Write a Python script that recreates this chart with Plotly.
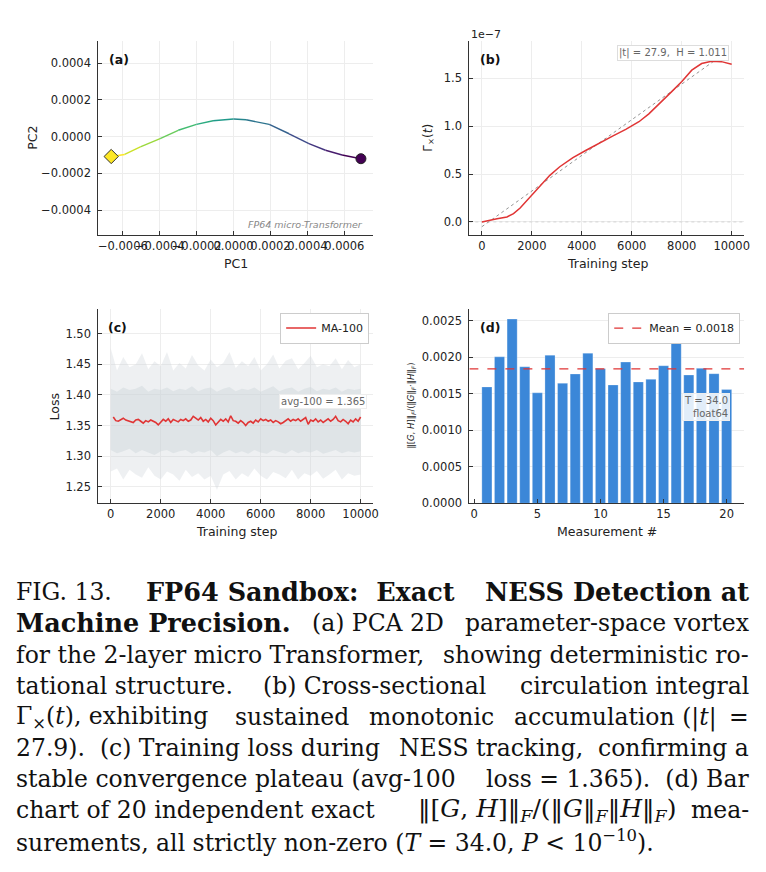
import plotly.graph_objects as go
from plotly.colors import sample_colorscale

W, H = 766, 872

# ---- (a) PCA trajectory (left end = latest, right end = start)
pc1 = [-0.000663, -0.00059, -0.000505, -0.000398, -0.0003, -0.000201, -0.000111, 0.0,
       0.000068, 0.000193, 0.000301, 0.000408, 0.000498, 0.000588, 0.00069]
pc2 = [-0.000108, -0.000097, -0.000056, -0.000011, 0.000035, 0.000067, 0.000087, 0.000096,
       0.000092, 0.000067, 0.000016, -0.000038, -0.000074, -0.0001, -0.00012]
pc_ticks = [-0.0006, -0.0004, -0.0002, 0.0, 0.0002, 0.0004, 0.0006]
pc_ticktext = ['−0.0006', '−0.0004', '−0.0002', '0.0000', '0.0002', '0.0004', '0.0006']

# ---- (b) circulation integral, in units of 1e-7
steps_b = [0, 211, 608, 1004, 1268, 1532, 1929, 2325, 2721, 3118, 3646, 4174, 4703, 5231,
           5760, 6288, 6684, 7213, 7609, 8005, 8402, 8798, 9194, 9590, 10000]
gamma_1e7 = [0.0, 0.014, 0.034, 0.052, 0.086, 0.145, 0.259, 0.376, 0.486, 0.576, 0.672, 0.748,
             0.824, 0.896, 0.965, 1.045, 1.127, 1.258, 1.362, 1.465, 1.583, 1.652, 1.676, 1.672, 1.645]
fit_steps = [0, 9300]
fit_vals = [-0.05, 1.68]

# ---- (c) training loss
band_steps = [0, 250, 500, 750, 1000, 1250, 1500, 1750, 2000, 2250, 2500, 2750, 3000, 3250,
              3500, 3750, 4000, 4250, 4500, 4750, 5000, 5250, 5500, 5750, 6000, 6250, 6500,
              6750, 7000, 7250, 7500, 7750, 8000, 8250, 8500, 8750, 9000, 9250, 9500, 9750, 10000]
loss_hi = [1.476, 1.44, 1.462, 1.445, 1.45, 1.468, 1.442, 1.455, 1.447, 1.47, 1.44, 1.452, 1.443,
           1.465, 1.448, 1.44, 1.458, 1.445, 1.452, 1.47, 1.444, 1.455, 1.447, 1.462, 1.44, 1.45,
           1.466, 1.443, 1.456, 1.46, 1.442, 1.452, 1.464, 1.445, 1.45, 1.447, 1.46, 1.442, 1.457, 1.445, 1.45]
loss_lo = [1.275, 1.28, 1.262, 1.278, 1.27, 1.265, 1.282, 1.268, 1.262, 1.275, 1.27, 1.26, 1.278,
           1.266, 1.272, 1.262, 1.268, 1.245, 1.27, 1.276, 1.262, 1.272, 1.266, 1.28, 1.268, 1.262,
           1.274, 1.27, 1.264, 1.278, 1.262, 1.272, 1.268, 1.276, 1.263, 1.27, 1.278, 1.262, 1.272, 1.268, 1.27]
core_hi = [1.41, 1.405, 1.412, 1.408, 1.41, 1.415, 1.405, 1.41, 1.408, 1.412, 1.406, 1.41, 1.408,
           1.414, 1.406, 1.41, 1.412, 1.405, 1.41, 1.413, 1.406, 1.41, 1.408, 1.412, 1.405, 1.41,
           1.414, 1.406, 1.41, 1.412, 1.405, 1.41, 1.413, 1.406, 1.41, 1.408, 1.412, 1.405, 1.41, 1.408, 1.41]
core_lo = [1.31, 1.305, 1.308, 1.312, 1.305, 1.31, 1.306, 1.302, 1.308, 1.31, 1.305, 1.308, 1.31,
           1.304, 1.308, 1.306, 1.31, 1.3, 1.306, 1.31, 1.305, 1.308, 1.304, 1.31, 1.306, 1.304,
           1.31, 1.307, 1.304, 1.31, 1.305, 1.308, 1.306, 1.31, 1.304, 1.307, 1.31, 1.305, 1.308, 1.306, 1.308]
ma_steps = list(range(100, 10001, 100))
ma_100 = [1.364, 1.358, 1.357, 1.360, 1.362, 1.359, 1.358, 1.356, 1.355, 1.359,
          1.360, 1.357, 1.354, 1.358, 1.356, 1.359, 1.357, 1.355, 1.351, 1.356,
          1.360, 1.357, 1.361, 1.355, 1.360, 1.358, 1.356, 1.360, 1.358, 1.361,
          1.357, 1.359, 1.365, 1.362, 1.359, 1.363, 1.357, 1.360, 1.356, 1.362,
          1.358, 1.351, 1.356, 1.360, 1.357, 1.361, 1.356, 1.366, 1.358, 1.357,
          1.354, 1.358, 1.355, 1.350, 1.355, 1.357, 1.354, 1.359, 1.356, 1.361,
          1.358, 1.360, 1.357, 1.359, 1.355, 1.358, 1.356, 1.353, 1.355, 1.358,
          1.361, 1.357, 1.360, 1.358, 1.361, 1.357, 1.360, 1.363, 1.352, 1.359,
          1.357, 1.361, 1.356, 1.359, 1.355, 1.358, 1.361, 1.357, 1.360, 1.365,
          1.358, 1.356, 1.360, 1.357, 1.353, 1.359, 1.356, 1.361, 1.357, 1.364]

# ---- (d) commutator norm measurements
meas = list(range(1, 21))
comm = [0.001594, 0.002006, 0.002523, 0.00187, 0.001513, 0.002029, 0.001644, 0.001771, 0.002056, 0.001843,
        0.001621, 0.001934, 0.001662, 0.001698, 0.001884, 0.00221, 0.001757, 0.001848, 0.001775, 0.001558]
mean_comm = sum(comm) / len(comm)


def px(x):
    return x / W


def py(y):
    return 1 - y / H


fig = go.Figure()

# (a) colored trajectory
n = len(pc1)
cols = sample_colorscale('Viridis', [1 - i / (n - 2) for i in range(n - 1)])
for i in range(n - 1):
    fig.add_trace(go.Scatter(x=pc1[i:i + 2], y=pc2[i:i + 2], mode='lines',
                             line=dict(color=cols[i], width=1.4), showlegend=False,
                             xaxis='x', yaxis='y'))
fig.add_trace(go.Scatter(x=[pc1[0]], y=[pc2[0]], mode='markers',
                         marker=dict(symbol='diamond', size=11, color='#fde725',
                                     line=dict(color='#333', width=1)),
                         showlegend=False, xaxis='x', yaxis='y'))
fig.add_trace(go.Scatter(x=[pc1[-1]], y=[pc2[-1]], mode='markers',
                         marker=dict(symbol='circle', size=10, color='#440154',
                                     line=dict(color='#222', width=1)),
                         showlegend=False, xaxis='x', yaxis='y'))

# (b)
fig.add_trace(go.Scatter(x=[-500, 10500], y=[0, 0], mode='lines',
                         line=dict(color='#cccccc', width=0.8, dash='dot'),
                         showlegend=False, xaxis='x2', yaxis='y2'))
fig.add_trace(go.Scatter(x=fit_steps, y=fit_vals, mode='lines',
                         line=dict(color='#888888', width=0.9, dash='dot'),
                         showlegend=False, xaxis='x2', yaxis='y2'))
fig.add_trace(go.Scatter(x=steps_b, y=gamma_1e7, mode='lines',
                         line=dict(color='#e03535', width=1.5),
                         showlegend=False, xaxis='x2', yaxis='y2'))

# (c)
fig.add_trace(go.Scatter(x=band_steps + band_steps[::-1], y=loss_hi + loss_lo[::-1],
                         fill='toself', fillcolor='rgba(205,213,217,0.35)', mode='lines',
                         line=dict(width=0), showlegend=False, hoverinfo='skip',
                         xaxis='x3', yaxis='y3'))
fig.add_trace(go.Scatter(x=band_steps + band_steps[::-1], y=core_hi + core_lo[::-1],
                         fill='toself', fillcolor='rgba(205,213,217,0.45)', mode='lines',
                         line=dict(width=0), showlegend=False, hoverinfo='skip',
                         xaxis='x3', yaxis='y3'))
fig.add_trace(go.Scatter(x=ma_steps, y=ma_100, mode='lines', name='MA-100',
                         line=dict(color='#e03535', width=1.6),
                         legend='legend', xaxis='x3', yaxis='y3'))

# (d)
fig.add_trace(go.Bar(x=meas, y=comm, width=0.8, marker_color='#3b87d8',
                     marker_line=dict(color='rgba(255,255,255,0.5)', width=0.5),
                     showlegend=False, xaxis='x4', yaxis='y4'))
fig.add_trace(go.Scatter(x=[-0.39, 21.39], y=[mean_comm, mean_comm], mode='lines',
                         name=f'Mean = {mean_comm:.4f}',
                         line=dict(color='#e03535', width=1.3, dash='dash'),
                         legend='legend2', xaxis='x4', yaxis='y4'))

tickfont = dict(family='DejaVu Sans', size=11.5, color='#222')
ax = dict(showline=True, linecolor='#333', linewidth=1, ticks='inside', ticklen=4,
          tickcolor='#333', showgrid=True, gridcolor='#ededed', gridwidth=0.8,
          zeroline=False, tickfont=tickfont, tickangle=0, mirror=False)
ay = dict(ax, ticklabelstandoff=4)

xa = [91, 368]
xb = [465, 742]
ytop = [33.3, 229.3]
ybot = [303.3, 499.3]

fig.update_layout(
    width=W, height=H,
    margin=dict(l=0, r=0, t=0, b=0),
    paper_bgcolor='white', plot_bgcolor='white',
    xaxis=dict(ax, domain=[px(xa[0]), px(xa[1])], anchor='y', range=[-0.000733, 0.000756],
               tickvals=pc_ticks, ticktext=pc_ticktext),
    yaxis=dict(ay, domain=[py(ytop[1]), py(ytop[0])], anchor='x', range=[-0.000538, 0.000521],
               tickvals=pc_ticks[1:-1], ticktext=pc_ticktext[1:-1]),
    xaxis2=dict(ax, domain=[px(xb[0]), px(xb[1])], anchor='y2', range=[-500, 10500],
                tickvals=[0, 2000, 4000, 6000, 8000, 10000], tickformat='d'),
    yaxis2=dict(ay, domain=[py(ytop[1]), py(ytop[0])], anchor='x2', range=[-0.141, 1.887],
                tickvals=[0, 0.5, 1.0, 1.5], tickformat='.1f'),
    xaxis3=dict(ax, domain=[px(xa[0]), px(xa[1])], anchor='y3', range=[-500, 10500],
                tickvals=[0, 2000, 4000, 6000, 8000, 10000], tickformat='d'),
    yaxis3=dict(ay, domain=[py(ybot[1]), py(ybot[0])], anchor='x3', range=[1.2231, 1.5405],
                tickvals=[1.25, 1.30, 1.35, 1.40, 1.45, 1.50], tickformat='.2f'),
    xaxis4=dict(ax, domain=[px(xb[0]), px(xb[1])], anchor='y4', range=[-0.39, 21.39],
                tickvals=[0, 5, 10, 15, 20], showgrid=False),
    yaxis4=dict(ay, domain=[py(ybot[1]), py(ybot[0])], anchor='x4', range=[0, 0.002663],
                tickvals=[0, 0.0005, 0.001, 0.0015, 0.002, 0.0025], tickformat='.4f'),
    legend=dict(x=px(364), y=py(307), xanchor='right', yanchor='top',
                bgcolor='white', bordercolor='#cccccc', borderwidth=1,
                font=dict(family='DejaVu Sans', size=11, color='#222'),
                itemwidth=30, tracegroupgap=0),
    legend2=dict(x=px(738), y=py(307), xanchor='right', yanchor='top',
                 bgcolor='white', bordercolor='#cccccc', borderwidth=1,
                 font=dict(family='DejaVu Sans', size=11, color='#222'),
                 itemwidth=30, tracegroupgap=0),
)

ann = []


def label(text, x, y, size=12, xanchor='center', yanchor='middle', angle=0, **kw):
    ann.append(dict(text=text, x=px(x), y=py(y), xref='paper', yref='paper',
                    xanchor=xanchor, yanchor=yanchor, showarrow=False, textangle=angle,
                    font=kw.pop('font', dict(family='DejaVu Sans', size=size, color='#222')), **kw))


# axis titles
label('PC1', 230, 258, 12.5)
label('PC2', 25, 131, 12.5, angle=-90)
label('Training step', 604, 258, 12.5)
label('Γ<sub>×</sub>(<i>t</i>)', 424, 131, 12, angle=-90)
label('Loss', 47, 402, 12.5, angle=-90)
label('Training step', 230, 528, 12.5)
label('‖[<i>G</i>, <i>H</i>]‖<sub><i>F</i></sub>/(‖<i>G</i>‖<sub><i>F</i></sub>·‖<i>H</i>‖<sub><i>F</i></sub>)',
      407, 401, 8.5, angle=-90)
label('Measurement #', 604, 528, 12.5)

# panel letters
bold = dict(family='DejaVu Sans', size=12.5, color='#111')
label('<b>(a)</b>', 100, 52, xanchor='left', font=bold)
label('<b>(b)</b>', 474, 52, xanchor='left', font=bold)
label('<b>(c)</b>', 99, 322, xanchor='left', font=bold)
label('<b>(d)</b>', 474, 322, xanchor='left', font=bold)

# in-panel notes
label('<i>FP64 micro-Transformer</i>', 360, 218, xanchor='right',
      font=dict(family='DejaVu Sans', size=9.5, color='#888'))
label('1e−7', 465, 27, xanchor='left', font=dict(family='DejaVu Sans', size=11, color='#222'))
label('|t| = 27.9,  H = 1.011', 727, 45, xanchor='right',
      font=dict(family='DejaVu Sans', size=10, color='#666'),
      bgcolor='white', bordercolor='#dddddd', borderwidth=1, borderpad=1)
label('avg-100 = 1.365', 362, 397, xanchor='right',
      font=dict(family='DejaVu Sans', size=10, color='#666'),
      bgcolor='white', bordercolor='#eeeeee', borderwidth=1, borderpad=1)
label('T = 34.0<br>float64', 728, 402, xanchor='right', align='right',
      font=dict(family='DejaVu Sans', size=10, color='#666'),
      bgcolor='rgba(255,255,255,0.85)', bordercolor='#eeeeee', borderwidth=1, borderpad=1)

# caption: each line split into chunks; first chunk pinned left, last pinned right,
# middle chunks centred where the justified words sit
reg = dict(family='DejaVu Serif', size=23.5, color='#111')
bld = dict(family='DejaVu Serif', size=25.5, color='#111')
mth = dict(family='DejaVu Serif', size=25, color='#111')
norm_gh = ('‖[<i>G</i>, <i>H</i>]‖<sub><i>F</i></sub>/(‖<i>G</i>‖<sub><i>F</i></sub>'
           '‖<i>H</i>‖<sub><i>F</i></sub>)')
caption = [
    (589, [('FIG. 13.', 'L', reg), ('<b>FP64 Sandbox:  Exact</b>', 295, bld),
           ('<b>NESS Detection at</b>', 'R', bld)]),
    (620, [('<b>Machine Precision.</b>', 'L', bld), ('(a) PCA 2D', 373, reg),
           ('parameter-space vortex', 'R', reg)]),
    (652, [('for the 2-layer micro Transformer,', 'L', reg), ('showing deterministic ro-', 'R', reg)]),
    (683, [('tational structure.', 'L', reg), ('(b) Cross-sectional', 369, reg),
           ('circulation integral', 'R', reg)]),
    (715, [('Γ<sub>×</sub>(<i>t</i>), exhibiting', 'L', reg), ('sustained', 286, reg),
           ('monotonic', 427, reg), ('accumulation (|<i>t</i>|', 612, reg), ('=', 'R', reg)]),
    (746, [('27.9).  (c) Training loss during', 'L', reg), ('NESS tracking,', 487, reg),
           ('confirming a', 'R', reg)]),
    (777, [('stable convergence plateau (avg-100', 'L', reg), ('loss = 1.365).  (d) Bar', 'R', reg)]),
    (808, [('chart of 20 independent exact', 'L', reg), (norm_gh, 543, mth), ('mea-', 'R', reg)]),
    (840, [('surements, all strictly non-zero (<i>T</i> = 34.0, <i>P</i> < 10<sup>−10</sup>).', 'L', reg)]),
]
for y, chunks in caption:
    for text, pos, f in chunks:
        if pos == 'L':
            label(text, 6, y, xanchor='left', font=f)
        elif pos == 'R':
            label(text, 749, y, xanchor='right', font=f)
        else:
            label(text, pos, y, xanchor='center', font=f)

fig.update_layout(annotations=ann)

fig.write_html('out.html')
